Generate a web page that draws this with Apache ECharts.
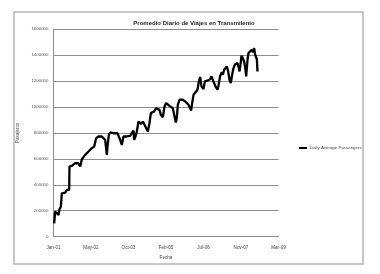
<!DOCTYPE html>
<html><head><meta charset="utf-8">
<script src="https://cdn.jsdelivr.net/npm/echarts@6/dist/echarts.min.js"></script>
<style>html,body{margin:0;padding:0;background:#fff}#c{width:380px;height:274px}</style>
</head><body><div id="c"></div>
<script>
// x values: days since 10 Jan 2001 (axis origin)
const dayOffsets = [9,22,44,67,80,98,111,133,156,178,200,209,213,231,244,267,289,311,333,356,378,400,422,444,467,489,511,524,542,569,600,622,644,667,689,711,720,738,756,778,800,822,853,871,889,911,933,955,978,1000,1022,1044,1067,1075,1093,1111,1133,1155,1169,1191,1209,1235,1258,1280,1298,1324,1342,1369,1387,1413,1431,1458,1480,1502,1524,1547,1564,1591,1613,1631,1644,1658,1680,1702,1724,1755,1778,1800,1822,1835,1849,1867,1893,1920,1938,1955,1973,2000,2018,2035,2062,2089,2107,2120,2133,2147,2160,2187,2200,2222,2244,2258,2275,2293,2311,2329,2347,2364,2382,2400,2418,2436,2453,2471,2480,2493,2507,2524,2542,2560,2569,2587,2600,2622,2644,2658,2675,2689,2702,2711,2720];
const passengers = [103000,193000,193000,167000,211000,231000,334000,347000,340000,360000,347000,360000,540000,540000,545000,553000,566000,553000,566000,540000,597000,604000,630000,643000,656000,669000,682000,669000,694000,759000,772000,764000,772000,767000,746000,630000,694000,785000,803000,792000,797000,785000,797000,785000,746000,707000,772000,767000,772000,767000,777000,797000,818000,746000,772000,810000,887000,900000,869000,887000,869000,869000,810000,875000,952000,957000,965000,990000,977000,977000,939000,921000,1003000,1029000,1016000,1008000,1008000,990000,977000,880000,913000,1016000,1055000,1049000,1055000,1042000,1049000,1016000,990000,972000,1029000,1093000,1106000,1132000,1196000,1230000,1158000,1137000,1196000,1209000,1204000,1214000,1235000,1214000,1196000,1209000,1158000,1132000,1163000,1240000,1266000,1248000,1286000,1299000,1312000,1273000,1209000,1183000,1248000,1299000,1325000,1312000,1338000,1299000,1273000,1325000,1394000,1376000,1350000,1286000,1235000,1363000,1415000,1428000,1440000,1420000,1453000,1402000,1415000,1368000,1273000];
const xTickLabels = ['Jan-01','May-02','Oct-03','Feb-05','Jul-06','Nov-07','Mar-09'];
const yTickLabels = ['0','200000','400000','600000','800000','1000000','1200000','1400000','1600000'];
const seriesName = 'Daily Average Passengers';
const titleText = 'Promedio Diario de Viajes en Transmilenio';

const FONT = 'Liberation Sans';
const chart = echarts.init(document.getElementById('c'), null, {renderer: 'canvas'});
chart.setOption({
  animation: false,
  backgroundColor: '#fff',
  title: {
    text: titleText, left: 189, top: 15, textAlign: 'center',
    textStyle: {fontFamily: FONT, fontSize: 6, fontWeight: 'bold', color: '#222'}
  },
  legend: {
    data: [seriesName], left: 294, top: 141, itemWidth: 8, itemHeight: 2, itemGap: 2,
    icon: 'rect',
    textStyle: {fontFamily: FONT, fontSize: 4.4, color: '#444', padding: [0,0,0,-2]}
  },
  grid: {left: 53.5, right: 101.5, top: 29, bottom: 37.3},
  xAxis: {
    type: 'value', min: 0, max: 3000, interval: 500,
    name: 'Fecha', nameLocation: 'middle', nameGap: 19,
    nameTextStyle: {fontFamily: FONT, fontSize: 4.6, color: '#444'},
    axisLine: {show: true, lineStyle: {color: '#8c8c8c', width: 1}},
    axisTick: {show: false},
    splitLine: {show: false},
    axisLabel: {fontFamily: FONT, fontSize: 4.6, color: '#444', margin: 9,
      formatter: v => xTickLabels[Math.round(v / 500)] || ''}
  },
  yAxis: {
    type: 'value', min: 0, max: 1600000, interval: 200000,
    name: 'Pasajeros', nameLocation: 'middle', nameGap: 29, nameRotate: 90,
    nameTextStyle: {fontFamily: FONT, fontSize: 4.6, color: '#444'},
    axisLine: {show: true, lineStyle: {color: '#8c8c8c', width: 1}},
    axisTick: {show: false},
    splitLine: {show: true, lineStyle: {color: '#8c8c8c', width: 1}},
    axisLabel: {fontFamily: FONT, fontSize: 4.4, color: '#555', margin: 5,
      formatter: v => yTickLabels[Math.round(v / 200000)]}
  },
  series: [{
    name: seriesName, type: 'line', showSymbol: false, symbol: 'none',
    lineStyle: {color: '#000', width: 2.3}, itemStyle: {color: '#000'},
    data: dayOffsets.map((d, i) => [d, passengers[i]])
  }],
  graphic: [{
    type: 'rect', silent: true, z: -1,
    shape: {x: 14, y: 12, width: 349, height: 252},
    style: {fill: 'none', stroke: '#b5b5b5', lineWidth: 1.5}
  }]
});
</script></body></html>
